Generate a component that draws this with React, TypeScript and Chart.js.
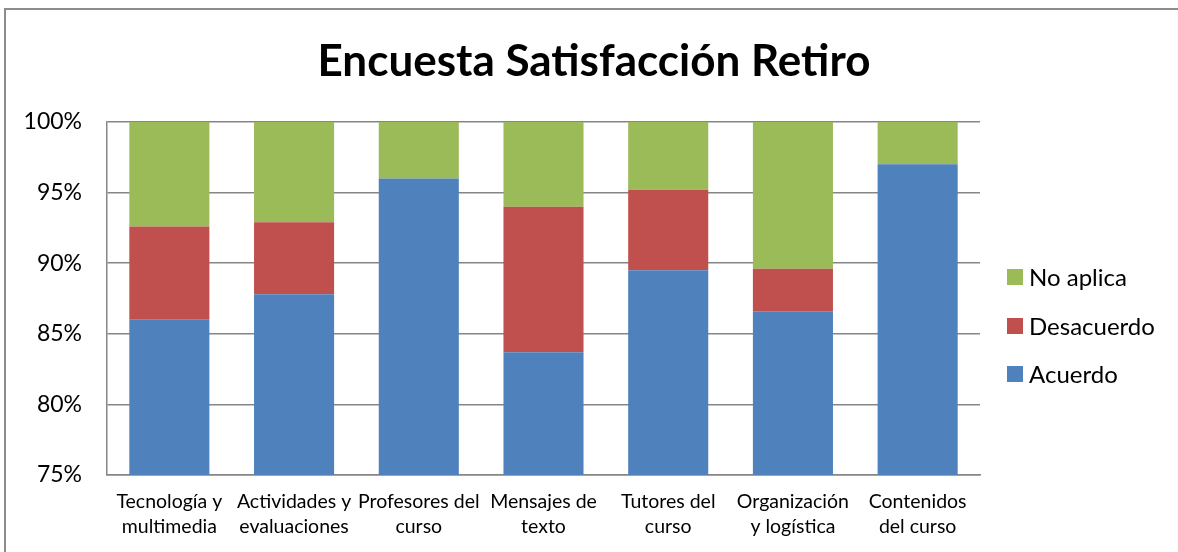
import React, { useEffect, useRef } from "react";
import { Chart, registerables } from "chart.js";

Chart.register(...registerables);

const categories: string[][] = [
  ["Tecnología y", "multimedia"],
  ["Actividades y", "evaluaciones"],
  ["Profesores del", "curso"],
  ["Mensajes de", "texto"],
  ["Tutores del", "curso"],
  ["Organización", "y logística"],
  ["Contenidos", "del curso"],
];

const acuerdo = [86.0, 87.8, 96.0, 83.7, 89.5, 86.6, 97.0];
const desacuerdo = [6.6, 5.1, 0, 10.3, 5.7, 3.0, 0];
const noAplica = [7.4, 7.1, 4.0, 6.0, 4.8, 10.4, 3.0];

const yTicks = [75, 80, 85, 90, 95, 100];

const FONT = "Lato, Carlito, 'Open Sans', sans-serif";
const GRID = "#868686";

const legendPlugin = {
  id: "customLegend",
  afterDraw(chart: any) {
    const ctx = chart.ctx;
    const ds = chart.data.datasets;
    const order = [2, 1, 0];
    const rows = [277, 326, 374];
    ctx.save();
    ctx.font = `24px ${FONT}`;
    ctx.textBaseline = "middle";
    ctx.textAlign = "left";
    order.forEach((idx, i) => {
      const y = rows[i];
      ctx.fillStyle = ds[idx].backgroundColor;
      ctx.fillRect(1007, y - 8, 16, 16);
      ctx.fillStyle = "#000";
      ctx.fillText(ds[idx].label, 1029, y + 1);
    });
    ctx.restore();
  },
};

export default function App() {
  const ref = useRef<HTMLCanvasElement | null>(null);

  useEffect(() => {
    if (!ref.current) return;
    const chart = new Chart(ref.current, {
      type: "bar",
      data: {
        labels: categories,
        datasets: [
          { label: "Acuerdo", data: acuerdo, backgroundColor: "#4F81BD", yAxisID: "y" },
          { label: "Desacuerdo", data: desacuerdo, backgroundColor: "#C0504D", yAxisID: "y" },
          { label: "No aplica", data: noAplica, backgroundColor: "#9BBB59", yAxisID: "y" },
        ],
      },
      options: {
        responsive: false,
        animation: false,
        devicePixelRatio: 1,
        layout: { padding: { left: 10, right: 0, top: 0, bottom: 0 } },
        datasets: {
          bar: { categoryPercentage: 1, barPercentage: 0.642 },
        },
        plugins: {
          legend: { display: false },
          tooltip: { enabled: false },
          title: {
            display: true,
            text: "Encuesta Satisfacción Retiro",
            color: "#000",
            font: { family: FONT, size: 44, weight: "bold", lineHeight: 1.2 },
            padding: { top: 35.6, bottom: 33.6 },
          },
        },
        scales: {
          x: {
            stacked: true,
            grid: { display: false, drawTicks: false },
            border: { display: true, color: GRID, width: 1.5 },
            ticks: {
              color: "#000",
              font: { family: FONT, size: 19.5, lineHeight: 1.28 },
              padding: 14,
              maxRotation: 0,
              autoSkip: false,
            },
            afterFit: (s: any) => {
              s.height = 77;
            },
          },
          y: {
            stacked: true,
            min: 75,
            max: 100,
            grid: { color: GRID, lineWidth: 1.5, drawTicks: false },
            border: { display: true, color: GRID, width: 1.5 },
            afterBuildTicks: (s: any) => {
              s.ticks = yTicks.map((v) => ({ value: v }));
            },
            ticks: {
              color: "#000",
              font: { family: FONT, size: 23 },
              padding: 25,
              callback: (v: any) => `${v}%`,
            },
            afterFit: (s: any) => {
              s.width = 97;
            },
          },
          legendSpace: {
            type: "linear",
            position: "right",
            display: true,
            grid: { display: false, drawTicks: false },
            border: { display: false },
            ticks: { display: false },
            afterFit: (s: any) => {
              s.width = 198;
            },
          },
        },
      },
      plugins: [legendPlugin],
    });
    return () => chart.destroy();
  }, []);

  return (
    <div
      style={{
        position: "fixed",
        left: 0,
        top: 0,
        width: 1178,
        height: 552,
        overflow: "hidden",
        background: "#fff",
      }}
    >
      <div
        style={{
          position: "absolute",
          left: 4,
          top: 8,
          width: 1300,
          height: 700,
          border: "2px solid #8c8c8c",
          boxSizing: "border-box",
        }}
      />
      <canvas
        ref={ref}
        width={1178}
        height={552}
        style={{ position: "absolute", left: 0, top: 0, width: 1178, height: 552 }}
      />
    </div>
  );
}
